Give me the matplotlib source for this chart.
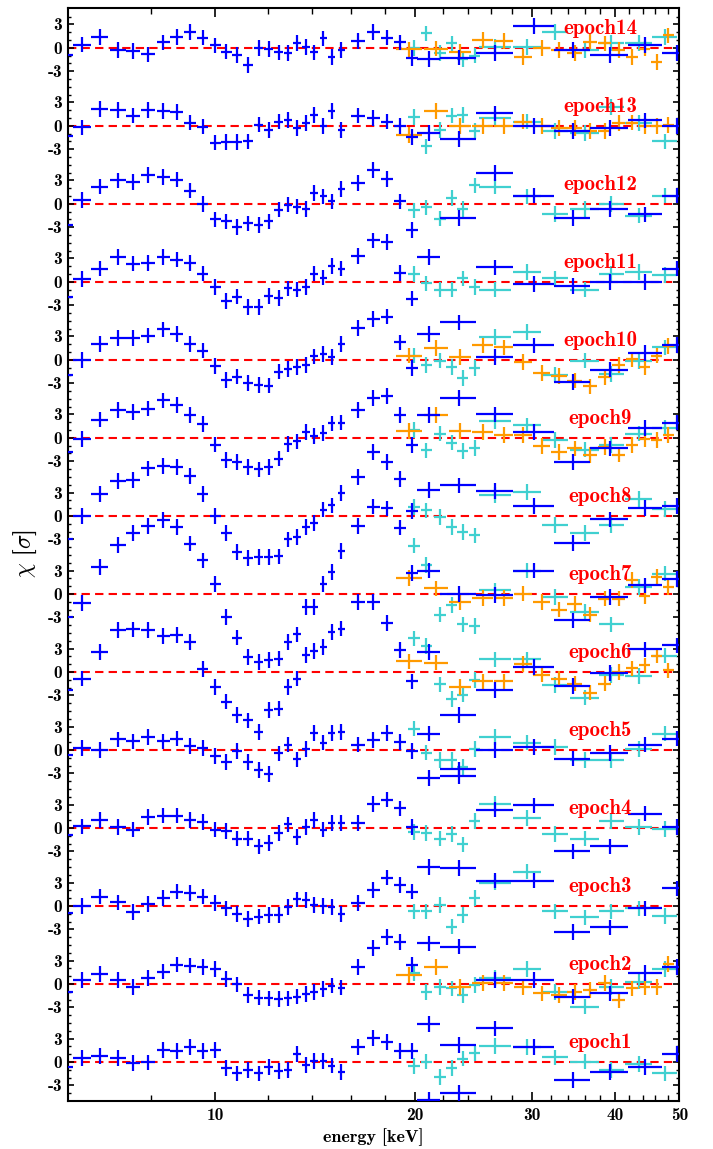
import numpy as np
import matplotlib
matplotlib.use("Agg")
import matplotlib.pyplot as plt
from matplotlib.ticker import FixedLocator, FixedFormatter, NullFormatter

plt.rcParams['font.family'] = 'cmb10'
plt.rcParams['axes.unicode_minus'] = False
plt.rcParams['mathtext.fontset'] = 'cm'

nan = np.nan

# FPM blue, fine bins (keV) and half widths
blue_lo_E = [5.92, 6.31, 6.70, 7.14, 7.53, 7.93, 8.36, 8.75, 9.18, 9.58,
             10.0, 10.40, 10.80, 11.22, 11.63, 12.04, 12.47, 12.87, 13.28, 13.70,
             14.10, 14.55, 14.97, 15.49, 16.43, 17.30, 18.14, 18.96, 19.78]
blue_lo_dE = [0.19] * 24 + [0.4] * 5

# residuals (sigma), epoch1 ... epoch14
blue_lo = [
    [-0.6, 0.55, 0.8, 0.55, -0.15, -0.05, 1.55, 1.4, 1.95, 1.4, 1.55, -0.8, -1.45, -1.0, -1.45, -0.6, -1.15, -1.0, 1.0, -0.4, 0.15, 0.15, -0.45, -1.3, 1.95, 3.05, 2.6, 1.4, 1.4],
    [-1.05, 0.5, 1.25, 0.5, -0.35, 0.75, 1.6, 2.5, 2.35, 2.2, 1.9, 0.65, -0.05, -1.4, -1.75, -1.85, -1.95, -1.85, -1.6, -1.3, -1.0, -0.65, -0.2, -0.45, 2.15, 4.65, 6.05, 5.35, 2.5],
    [-0.95, 0, 1.2, 0.45, -0.75, 0.25, 1.0, 1.85, 1.7, 1.2, 0.35, -0.3, -1.05, -1.7, -1.35, -1.15, -1.15, -0.15, 0.85, 0.75, 0.15, 0, -0.15, -1.05, 0.35, 2.05, 3.65, 2.7, 1.85],
    [-0.95, 0.2, 1.05, 0.15, -0.2, 1.4, 1.6, 1.6, 1.05, 0.75, -0.2, -0.4, -1.35, -1.35, -2.35, -1.9, -0.65, 0.45, -1.15, 0.15, 1.05, -0.2, 0.65, 0.65, 0.65, 3.05, 3.65, 2.5, 0.15],
    [-0.7, 0.25, 0, 1.35, 1.1, 1.65, 1.1, 1.45, 0.5, 0.25, -0.8, -1.55, -0.15, -1.55, -2.6, -3.05, -0.45, 0.7, -1.2, 0.15, 2.2, 0.95, 2.2, 2.3, 0.7, 1.25, 2.2, 1.0, -0.15],
    [-2.35, -0.85, 2.55, 5.35, 5.45, 5.35, 4.6, 4.7, 3.85, 0.4, -1.9, -3.8, -5.55, -6.2, -7.7, -4.9, -4.7, -1.9, -0.85, 2.15, 2.65, 3.2, 5.1, 5.55, 9.0, 9.0, 6.3, 2.8, -1.2],
    [-2.95, -1.15, 3.45, 6.25, 7.8, 8.7, 9.5, 8.6, 6.45, 4.3, 1.3, -2.95, -5.6, -8.1, -8.7, -8.5, -8.3, -6.2, -5.2, -1.65, -1.65, 1.3, 2.8, 5.5, 8.7, 11.2, 10.95, 8.5, 2.7],
    [-2.9, 0, 2.8, 4.5, 4.6, 6.1, 6.4, 6.3, 5.1, 2.8, 0, -2.2, -4.6, -5.4, -5.3, -5.25, -5.2, -3.0, -2.7, -1.4, -0.9, 0.8, 1.35, 2.95, 5.0, 8.2, 6.9, 4.7, 0.65],
    [-1.8, -0.15, 2.35, 3.6, 3.3, 3.75, 4.8, 4.2, 2.9, 1.75, -0.85, -2.8, -3.1, -3.7, -4.05, -3.7, -2.65, -0.75, -0.45, 0.75, 0.25, 0.65, 1.85, 1.95, 3.6, 5.1, 5.35, 2.9, -0.95],
    [-2.0, 0, 2.0, 2.8, 2.8, 3.1, 3.9, 3.3, 2.05, 1.2, -0.75, -2.55, -2.15, -3.0, -3.2, -3.3, -1.5, -1.15, -0.95, -0.65, 0.45, 0.75, 0.35, 2.05, 4.05, 5.25, 5.55, 2.25, -1.05],
    [-1.9, 0.4, 1.7, 3.2, 2.35, 2.45, 3.2, 2.85, 2.45, 1.05, -0.65, -2.45, -1.9, -3.2, -3.2, -1.8, -2.05, -0.85, -1.0, -0.65, 1.05, 0.55, 2.0, 1.7, 3.3, 5.3, 5.1, 1.15, -2.15],
    [-2.7, 0.5, 2.2, 3.0, 2.8, 3.7, 3.4, 3.1, 1.7, 0, -2.0, -2.25, -3.0, -2.5, -2.7, -2.25, -0.75, -0.1, -0.35, -0.65, 1.35, 0.95, 0.3, 1.9, 2.65, 4.3, 3.2, 0.3, -3.35],
    [-1.35, -0.2, 2.15, 2.05, 1.3, 2.05, 1.9, 1.8, 0.4, -0.1, -2.15, -2.1, -2.1, -2.0, 0.15, -0.5, 0.55, 0.75, -0.3, 0.35, 1.4, 0, 1.9, -0.5, 1.3, 1.0, 0.55, 0, -1.45],
    [-0.9, 0.4, 1.4, -0.3, -0.4, -0.85, 0.7, 1.4, 2.0, 1.3, 0.3, -0.5, -0.9, -2.2, 0.0, -0.15, -0.6, -0.7, 0.65, 0.1, -0.6, 1.2, -1.15, -0.3, 0.85, 2.0, 1.3, 0.7, -1.3],
]

# blue, wide bins above 20 keV
blue_hi_E = [20.95, 23.25, 26.4, 30.25, 34.55, 39.25, 44.4, 49.5]
blue_hi_dE = [0.85, 1.45, 1.7, 2.15, 2.15, 2.55, 2.6, 2.5]
blue_hi = [
    [-4.9, -4.0, 4.3, 1.9, -2.3, -1.25, -0.6, 1.0],
    [-5.1, -7.8, 0.5, 0.5, -1.6, -1.2, 1.4, 2.2],
    [-4.8, -5.2, 3.25, 3.25, -3.3, -2.75, -0.3, 2.25],
    [-5.0, -5.1, 2.35, 2.9, -3.0, -2.35, 1.85, 0.1],
    [2.1, -2.5, 0, 0.4, -1.1, -0.4, 0.7, 1.45],
    [2.55, -5.5, -2.35, 0.65, -1.8, -0.1, 2.9, 3.4],
    [3.0, 0, -0.1, 3.0, -3.4, -0.4, 1.1, 1.9],
    [3.3, 3.9, 3.2, 1.25, -3.45, -0.45, 1.05, 1.25],
    [2.9, 5.1, 3.0, 0.75, -3.1, -1.35, 1.3, 1.95],
    [3.3, 4.8, 0.35, 1.85, -2.85, -1.25, 0.85, 1.9],
    [3.2, nan, 1.85, -0.3, -0.55, 0, 0, 1.7],
    [nan, -1.85, 3.95, 1.05, -1.8, -0.65, -1.35, 1.05],
    [-0.95, -1.7, 1.6, 0, -0.65, -0.3, 0.7, 0],
    [-1.45, -1.25, -0.65, 2.8, -0.3, -0.95, 0.35, -0.7],
]
extra_epoch = [5, 5]
extra_E = [20.95, 23.25]
extra_dE = [0.85, 1.45]
extra_val = [-3.6, -3.3]

# cyan
cyan_E = [19.9, 20.8, 21.8, 22.7, 23.6, 24.6, 26.4, 29.5, 32.5, 36.0, 39.5, 43.4, 47.5]
cyan_dE = [0.42, 0.42, 0.45, 0.45, 0.45, 0.48, 1.45, 1.45, 1.5, 1.8, 1.7, 2.0, 2.0]
cyan = [
    [-0.5, 0.05, -1.9, -0.8, 0.45, 1.1, 2.05, 1.95, 0.6, 0.05, -1.0, -0.25, -1.45],
    [1.45, -1.0, -0.35, -0.55, -1.4, -0.15, 0.75, 1.9, -1.0, -2.9, -0.35, 0.3, 1.9],
    [-0.7, -0.7, 0.1, -2.65, -1.15, 1.0, 3.0, 4.4, -0.7, -1.45, -0.7, -0.3, -1.3],
    [-0.5, -0.65, -1.35, -0.75, -2.1, 0.9, 3.05, 1.3, -0.8, -1.35, 0.9, 0.1, -0.1],
    [2.75, -0.35, -1.3, -1.3, -2.2, 0.1, 1.65, 0.95, 0.4, -1.25, -1.3, 0.1, 2.1],
    [4.3, 3.3, -1.6, -3.5, -2.9, -1.05, 1.6, 1.6, -1.7, -3.3, -0.4, -0.5, 2.1],
    [6.2, 3.7, -2.65, -1.45, -3.9, -4.1, 0.45, 3.0, -0.4, -2.3, -3.9, 0.9, 2.6],
    [1.15, 0.7, -0.15, -1.4, -2.05, -2.5, 2.65, 3.1, -1.2, -2.2, -1.2, 2.2, 0.9],
    [1.0, -1.6, 0.55, -0.6, -1.7, -1.3, 2.15, 1.6, -0.3, -1.5, -0.95, 0.55, 1.3],
    [0.55, -0.65, -0.1, -0.95, -2.35, -1.05, 2.9, 3.55, -1.9, -0.1, -1.8, -0.2, 1.6],
    [1.0, -0.2, -1.0, -1.0, 0.45, -0.65, -1.0, 1.3, 0.45, -1.0, 1.0, 1.3, 0.85],
    [-0.85, -0.45, -1.9, 0.75, -0.65, 2.35, 2.2, 0.95, -1.3, -0.65, 0, -1.5, 1.05],
    [1.1, -2.65, -0.5, 1.3, 1.4, -0.7, 1.0, 0.55, -0.7, -0.95, 2.4, 0.35, -2.0],
    [0, 1.85, -0.7, 0.55, -1.5, -1.0, 0.1, 0.1, 2.0, -0.3, 0.6, 0.6, 1.4],
]

# orange, only some epochs
orange_E = [19.6, 21.5, 23.4, 25.3, 27.2, 29.1, 31.0, 32.9, 34.8, 36.7, 38.6, 40.5, 42.4, 44.3, 46.2, 48.1]
orange_dE = 0.9
orange_epochs = [2, 6, 7, 9, 10, 13, 14]
orange = [
    [1.15, 2.2, -0.35, 0.1, 0.15, -0.35, -1.2, -1.4, -1.0, -0.75, 0.1, -2.05, -0.55, -0.35, -0.35, 2.55],
    [1.35, 1.2, -1.9, -1.2, -1.2, 1.05, -0.35, -0.85, -1.5, -2.65, -1.5, 0, 0.45, 0.85, 2.1, 0.2],
    [2.05, 0.7, -1.0, -0.5, -0.5, 0.05, -1.0, -2.0, -1.25, -2.65, -0.6, -0.6, 1.75, -0.25, 2.2, 0.9],
    [0.85, 2.9, 0.85, 0.75, 0.35, 0.35, -1.05, -1.8, -1.35, -2.2, -1.15, -2.15, -0.95, -0.15, -0.3, 0.35],
    [0.55, 1.5, 0.35, 1.85, 1.6, -0.3, -1.65, -2.1, -2.65, -3.4, -2.2, -0.65, 0.05, -0.95, 0.55, 1.75],
    [-1.15, 1.9, 0, 0, 0, 0.55, 0, -0.3, -0.3, -0.7, -0.65, 0.35, 0.4, 0, 0, 0.1],
    [-0.2, -0.1, -0.5, 1.0, 0.9, -1.15, 0, -0.3, -0.7, 0.8, 0.55, -0.3, -1.15, -0.1, -1.8, 1.6],
]

step = 10  # vertical offset between epochs
c_blue, c_cyan, c_orange = '#0000ff', '#40d0d0', '#ff9a00'

fig = plt.figure(figsize=(7.13, 11.49), dpi=100)
ax = fig.add_axes([0.095, 0.042, 0.858, 0.9507])

eb = dict(fmt='none', elinewidth=1.6, capsize=0)
for i in range(14):
    off = i * step
    ax.axhline(off, color='red', ls='--', lw=1.5, dashes=(4, 2.5), zorder=1)
    ax.errorbar(cyan_E, np.array(cyan[i]) + off, xerr=cyan_dE, yerr=1.0,
                ecolor=c_cyan, zorder=2, **eb)
    if i + 1 in orange_epochs:
        k = orange_epochs.index(i + 1)
        ax.errorbar(orange_E, np.array(orange[k]) + off, xerr=orange_dE, yerr=1.0,
                    ecolor=c_orange, zorder=3, **eb)
    ax.errorbar(blue_lo_E, np.array(blue_lo[i]) + off, xerr=blue_lo_dE, yerr=1.0,
                ecolor=c_blue, zorder=4, **eb)
    ax.errorbar(blue_hi_E, np.array(blue_hi[i]) + off, xerr=blue_hi_dE, yerr=1.0,
                ecolor=c_blue, zorder=4, **eb)
    ax.text(38.0, off + 2.5, f'epoch{i + 1}', color='red', ha='center', va='center',
            fontsize=15, zorder=5)

for ep, e, de, v in zip(extra_epoch, extra_E, extra_dE, extra_val):
    ax.errorbar([e], [v + (ep - 1) * step], xerr=[de], yerr=1.0, ecolor=c_blue, zorder=4, **eb)

ax.set_xscale('log')
ax.set_xlim(6, 50)
ax.set_ylim(-4.96, 135.05)

ax.xaxis.set_major_locator(FixedLocator([10, 20, 30, 40, 50]))
ax.xaxis.set_major_formatter(FixedFormatter(['10', '20', '30', '40', '50']))
xminor = [8, 12, 14, 16, 18, 22, 24, 26, 28, 32, 34, 36, 38, 42, 44, 46, 48]
ax.xaxis.set_minor_locator(FixedLocator(xminor))
ax.xaxis.set_minor_formatter(NullFormatter())

ymaj = [i * step + d for i in range(14) for d in (-3, 0, 3)]
ylab = ['-3', '0', '3'] * 14
ymin = [v for v in range(-4, 135) if v not in ymaj]
ax.yaxis.set_major_locator(FixedLocator(ymaj))
ax.yaxis.set_major_formatter(FixedFormatter(ylab))
ax.yaxis.set_minor_locator(FixedLocator(ymin))
ax.yaxis.set_minor_formatter(NullFormatter())

ax.tick_params(which='both', direction='in', top=True, right=True, labelsize=12.5)
ax.tick_params(axis='x', which='major', length=6.5, width=1.2, pad=5)
ax.tick_params(axis='x', which='minor', length=4, width=1.0)
ax.tick_params(axis='y', which='major', length=4, width=1.2, pad=4)
ax.tick_params(axis='y', which='minor', length=2.5, width=1.0)
for s in ax.spines.values():
    s.set_linewidth(1.5)

fig.text(25 / 713, 1 - 554 / 1149, r'$\chi$ [$\sigma$]', rotation=90,
         ha='center', va='center', fontsize=17)
fig.text(373.6 / 713, 1 - 1137 / 1149, 'energy [keV]', ha='center', va='center',
         fontsize=13)

fig.savefig('out.png', dpi=100)
